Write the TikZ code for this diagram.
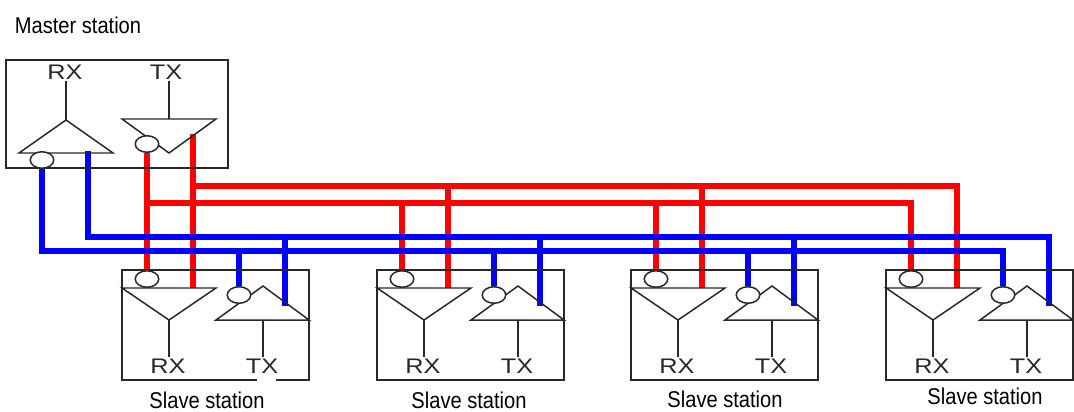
\documentclass[tikz,border=0pt]{standalone}
\usepackage{fontspec}
\setmainfont{Liberation Sans}
\usetikzlibrary{shapes.geometric,backgrounds}
\definecolor{linegray}{RGB}{40,40,40}
\tikzset{
  wirered/.style={line width=2.9pt, red},
  wireblue/.style={line width=2.9pt, blue},
  thin line/.style={line width=0.85pt, linegray},
  bubble/.style={ellipse, draw=linegray, line width=0.85pt, fill=white, inner sep=0pt, minimum width=0.47cm, minimum height=0.33cm},
  pinlabel/.style={font=\fontsize{12}{12}\selectfont, text=linegray, xscale=1.2, inner sep=1pt},
  stationlabel/.style={font=\fontsize{13}{13}\selectfont, xscale=0.88, inner sep=0pt},
}
\begin{document}
\begin{tikzpicture}[x=0.02cm, y=-0.02cm]
\useasboundingbox (0,0) rectangle (1074,412);

% Master
\node[stationlabel] (mlabel) at (78,25) {Master station};
\draw[thin line] (6,60) rectangle (228,168);
\node[pinlabel] (mrx) at (65,72) {RX};
\node[pinlabel] (mtx) at (166,72) {TX};
\coordinate (mrxtip) at (66,120);
\coordinate (mtxbase) at (169,119);
\draw[thin line] (mrxtip) -- (19,153) -- (113,153) -- cycle;
\draw[thin line] (122,119) -- (216,119) -- (169,153) -- cycle;
\draw[thin line] (mrxtip |- mrx.south) -- (mrxtip);
\draw[thin line] (mtxbase |- mtx.south) -- (mtxbase);
\node[bubble] (mrxb) at (42,160) {};
\node[bubble] (mtxb) at (147,144) {};
\coordinate (mrxp) at (88,151);
\coordinate (mtxp) at (193,134);

% Buses
\coordinate (redA) at (0,186);
\coordinate (redB) at (0,203);
\coordinate (blueA) at (0,237);
\coordinate (blueB) at (0,251);

% Slaves
\foreach \i/\dx/\lx/\ly in {1/0/207/400, 2/255/469/400, 3/509/725/399, 4/764/985/396} {
  \begin{scope}[shift={(\dx,0)}]
    \draw[thin line] (122,270) rectangle (309,380);
    \node[pinlabel] (rx\i) at (168,366) {RX};
    \node[pinlabel] (tx\i) at (262,366) {TX};
    \coordinate (rxtip\i) at (169,320);
    \coordinate (txbase\i) at (263,320);
    \draw[thin line] (122,288) -- (216,288) -- (rxtip\i) -- cycle;
    \draw[thin line] (216,320) -- (309,320) -- (263,286) -- cycle;
    \draw[thin line] (rxtip\i) -- (rxtip\i |- rx\i.north);
    \draw[thin line] (txbase\i) -- (txbase\i |- tx\i.north);
    \node[bubble] (rxb\i) at (147,279) {};
    \node[bubble] (txb\i) at (239,295) {};
    \coordinate (rxp\i) at (193,288);
    \coordinate (txp\i) at (285,306);
  \end{scope}
  \node[stationlabel] (slabel\i) at (\lx,\ly) {Slave station};
}
% Hueco en la caja
\draw[white, line width=1.4pt] (257,380) -- (276,380);

\begin{pgfonlayer}{background}
% Rojo
\draw[wirered] (mtxp) -- (mtxp |- redA) -- (redA -| rxp4) -- (rxp4);
\draw[wirered] (mtxb.south) -- (rxb1.north);
\draw[wirered] (mtxp) -- (rxp1);
\draw[wirered] (mtxb.south |- redB) -- (redB -| rxb4) -- (rxb4.north);
\foreach \i in {2,3} {
  \draw[wirered] (rxp\i |- redA) -- (rxp\i);
  \draw[wirered] (rxb\i.north |- redB) -- (rxb\i.north);
}
% Azul
\draw[wireblue] (mrxp) -- (mrxp |- blueA) -- (blueA -| txp4) -- (txp4);
\draw[wireblue] (mrxb.south) -- (mrxb.south |- blueB) -- (blueB -| txb4) -- (txb4.north);
\foreach \i in {1,2,3} {
  \draw[wireblue] (txp\i |- blueA) -- (txp\i);
  \draw[wireblue] (txb\i.north |- blueB) -- (txb\i.north);
}
\end{pgfonlayer}
\end{tikzpicture}
\end{document}
